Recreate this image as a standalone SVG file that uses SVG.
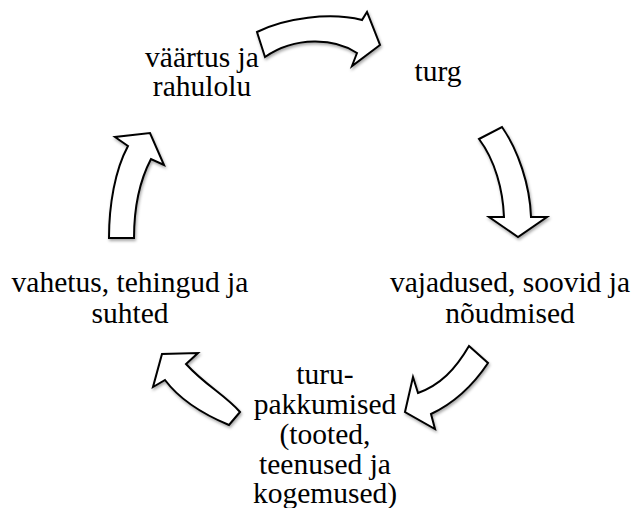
<svg xmlns="http://www.w3.org/2000/svg" width="634" height="508" viewBox="0 0 634 508">
<defs>
<filter id="sh" x="-20%" y="-20%" width="140%" height="140%">
<feDropShadow dx="1" dy="2" stdDeviation="1.8" flood-color="#000" flood-opacity="0.35"/>
</filter>
<style>
.arr{fill:#fff;stroke:#000;stroke-width:2;stroke-linejoin:miter;filter:url(#sh)}
text{font-family:"Liberation Serif","Times New Roman",Times,"Tinos","Noto Serif","DejaVu Serif","FreeSerif",serif;font-size:29.5px;fill:#000;text-anchor:middle}
</style>
</defs>
<rect width="634" height="508" fill="#fff"/>
<g id="connectors">
<path class="arr" d="M257,32 C285,18 330,12 362,20 L367,12 L380,45 L352,66 L357,53 C335,38 295,36 265,57 Z"/>
<path class="arr" d="M479,139 L502,127 C518,150 530,185 531,217 L547,217 L518,237 L489,217 L504,217 C503,190 495,160 479,139 Z"/>
<path class="arr" d="M469,346 L488,363 C470,390 450,405 431,414 L435,429 L405,412 L413,377 L418,393 C440,385 455,370 469,346 Z"/>
<path class="arr" d="M240,412 L229,425 C205,415 180,400 165,380 L153,387 L162,354 L198,353 L186,364 C205,385 225,395 240,412 Z"/>
<path class="arr" d="M109,238 L134,238 C134,205 140,180 151,159 L164,165 L150,133 L115,137 L128,146 C115,170 109,205 109,238 Z"/>
</g>
<g id="node-vaartus">
<text x="202" y="67">väärtus ja</text>
<text x="202" y="96">rahulolu</text>
</g>
<g id="node-turg">
<text x="438" y="81">turg</text>
</g>
<g id="node-vajadused">
<text x="510" y="292">vajadused, soovid ja</text>
<text x="510" y="323">nõudmised</text>
</g>
<g id="node-turupakkumised">
<text x="325" y="384">turu-</text>
<text x="325" y="414">pakkumised</text>
<text x="325" y="444">(tooted,</text>
<text x="325" y="474">teenused ja</text>
<text x="325" y="503">kogemused)</text>
</g>
<g id="node-vahetus">
<text x="130" y="292">vahetus, tehingud ja</text>
<text x="130" y="323">suhted</text>
</g>
</svg>
